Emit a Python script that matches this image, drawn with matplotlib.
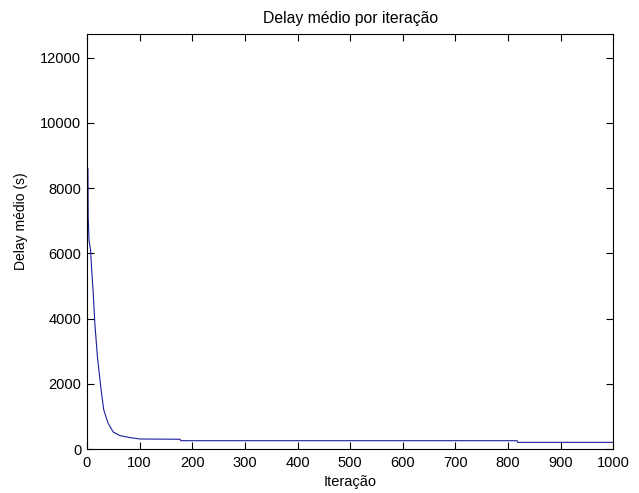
import matplotlib.pyplot as plt

# valores (iteracao, delay medio em segundos)
iteracao = [2, 2.5, 4, 7, 9, 12, 15, 20, 27, 32, 40, 50, 63, 82, 101, 177, 178, 817, 818, 1000]
delay = [8600, 7100, 6400, 6100, 5500, 4800, 3865, 2820, 1810, 1200, 800, 520, 410,
         350, 307, 300, 255, 255, 205, 205]

x_ticks = list(range(0, 1001, 100))
y_ticks = list(range(0, 12001, 2000))

plt.rcParams["font.family"] = ["Liberation Sans", "DejaVu Sans"]
plt.rcParams["font.size"] = 10.5

fig = plt.figure(figsize=(6.39, 4.93), dpi=100)
ax = fig.add_axes([0.136, 0.0892, 0.824, 0.842])

ax.plot(iteracao, delay, color="#1c1c9c", linewidth=0.8)

ax.set_xlim(0, 1000)
ax.set_ylim(0, 12730)
ax.set_xticks(x_ticks)
ax.set_yticks(y_ticks)

ax.tick_params(direction="in", top=True, right=True, length=5, width=0.8)
ax.tick_params(axis="x", pad=5)
ax.tick_params(axis="y", pad=4)
for s in ax.spines.values():
    s.set_linewidth(0.8)

ax.set_title("Delay médio por iteração", fontsize=11.3, pad=8)
ax.set_xlabel("Iteração", labelpad=3.5)
ax.set_ylabel("Delay médio (s)", fontsize=10)
ax.yaxis.set_label_coords(-0.112, 0.55)

fig.savefig("out.png", dpi=100)
